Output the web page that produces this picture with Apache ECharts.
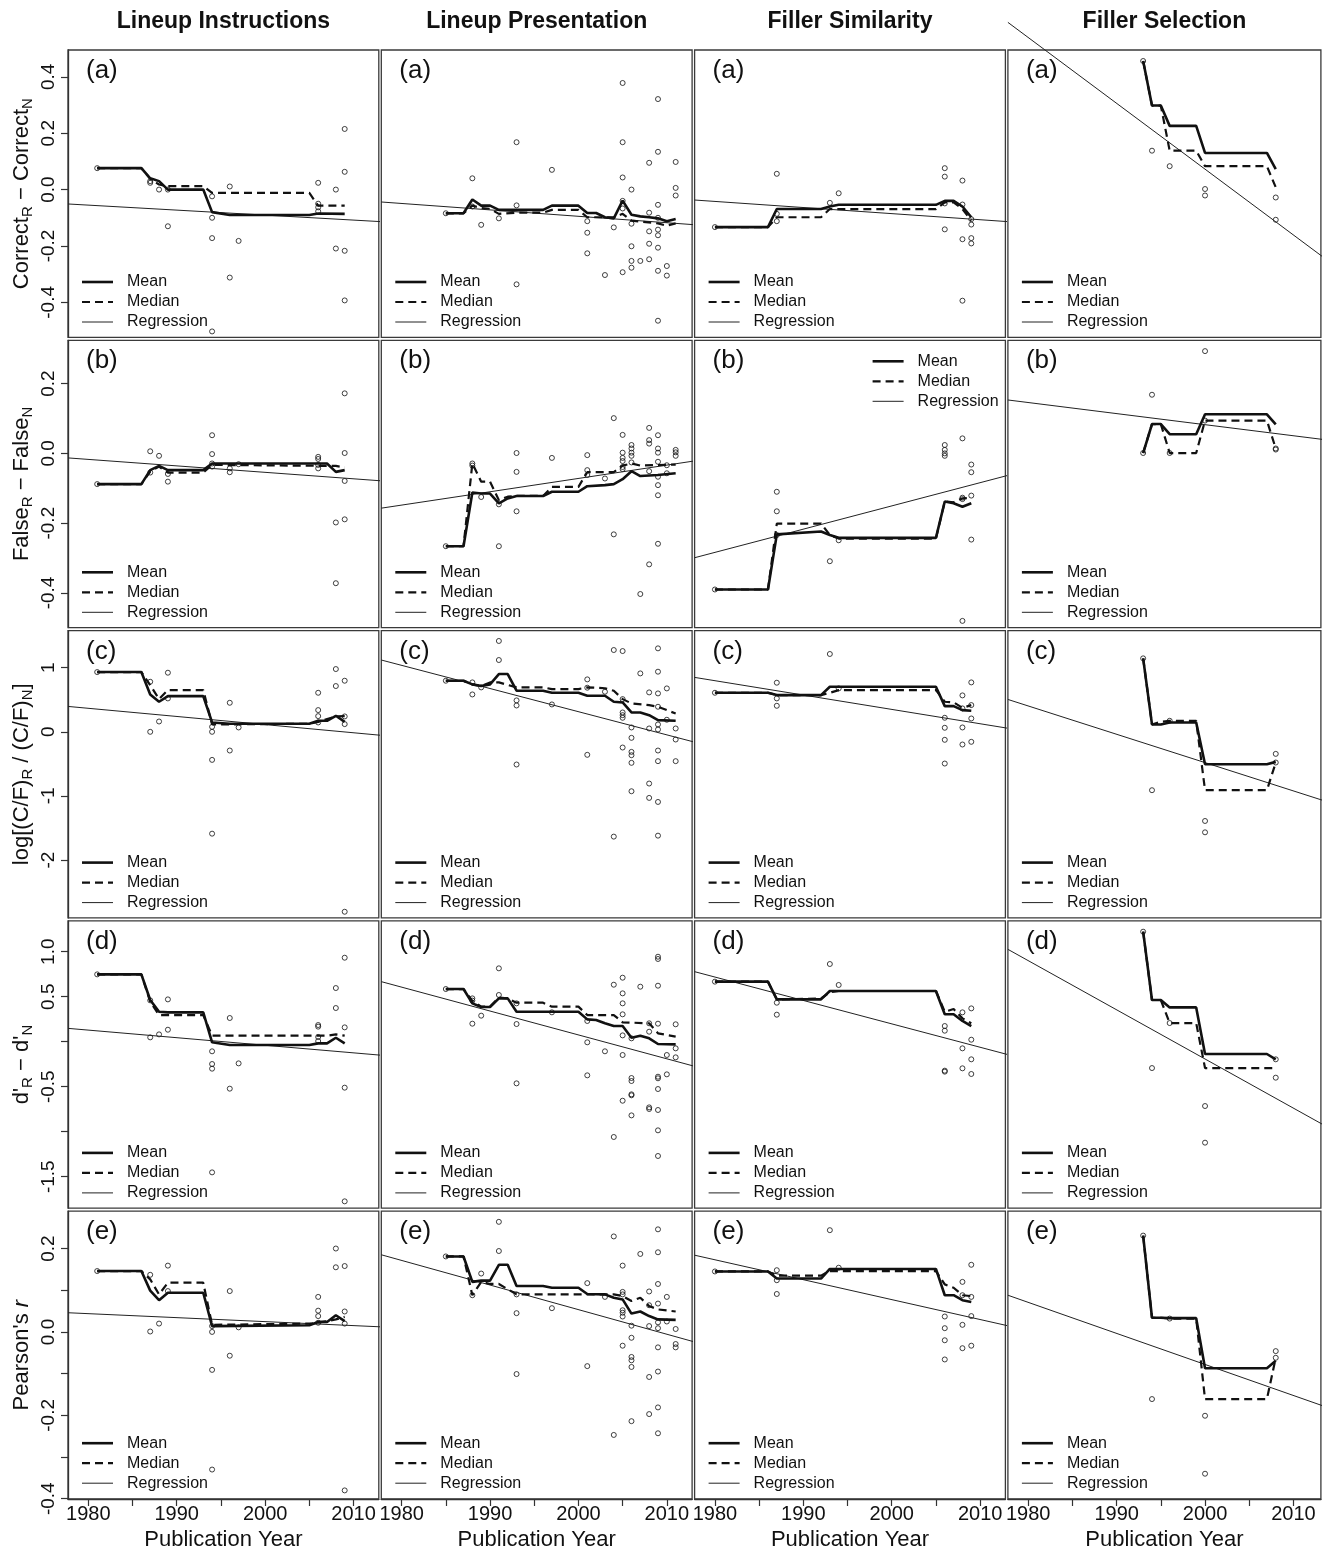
<!DOCTYPE html>
<html><head><meta charset="utf-8">
<script src="https://cdn.jsdelivr.net/npm/echarts/dist/echarts.min.js"></script>
<style>html,body{margin:0;padding:0;background:#fff}#c{width:1328px;height:1552px}</style>
</head><body><div id="c"></div>
<script>
// ---------- text / ticks ----------
const colTitles = ['Lineup Instructions', 'Lineup Presentation', 'Filler Similarity', 'Filler Selection'];
const rowTags = ['(a)', '(b)', '(c)', '(d)', '(e)'];
const rowNames = [
  '{m|Correct}{s|R}{m| \u2212 Correct}{s|N}',
  '{m|False}{s|R}{m| \u2212 False}{s|N}',
  '{m|log[(C/F)}{s|R}{m| / (C/F)}{s|N}{m|]}',
  "{m|d'}{s|R}{m| \u2212 d'}{s|N}",
  "{m|Pearson's }{i|r}"
];
const xName = 'Publication Year';
const legendNames = ['Mean', 'Median', 'Regression'];
const xTickYears = [1980, 1985, 1990, 1995, 2000, 2005, 2010];
const xLabelYears = [1980, 1990, 2000, 2010];
const yTicksA = [-0.4, -0.2, 0, 0.2, 0.4];
const yLabelsA = [-0.4, -0.2, 0, 0.2, 0.4];
const yTicksB = [-0.4, -0.2, 0, 0.2];
const yLabelsB = [-0.4, -0.2, 0, 0.2];
const yTicksC = [-2, -1, 0, 1];
const yLabelsC = [-2, -1, 0, 1];
const yTicksD = [-1.5, -1, -0.5, 0, 0.5, 1];
const yLabelsD = [-1.5, -0.5, 0.5, 1];
const yTicksE = [-0.4, -0.3, -0.2, -0.1, 0, 0.1, 0.2];
const yLabelsE = [-0.4, -0.2, 0, 0.2];

// ---------- row (a): Correct_R - Correct_N ----------
const ptsA1 = [[1981,0.076],[1987,0.03],[1987,0.024],[1988,0.0],[1989,0.0],[1989,-0.13],[1994,-0.024],[1994,-0.10],[1994,-0.172],[1994,-0.503],[1996,0.011],[1996,-0.312],[1997,-0.182],[2006,0.024],[2006,-0.05],[2006,-0.063],[2006,-0.077],[2008,0.0],[2008,-0.209],[2009,0.215],[2009,0.063],[2009,-0.217],[2009,-0.393]];
const meanA1 = [[1981,0.076],[1986,0.076],[1987,0.04],[1988,0.03],[1989,0.0],[1993,0.0],[1994,-0.08],[1996,-0.09],[2005,-0.09],[2006,-0.085],[2009,-0.086]];
const medA1 = [[1981,0.076],[1986,0.076],[1987,0.038],[1988,0.018],[1989,0.012],[1993,0.012],[1994,-0.012],[2005,-0.012],[2006,-0.057],[2009,-0.057]];
const regA1 = [[1977.7,-0.051],[2013.3,-0.114]];

const ptsA2 = [[1985,-0.084],[1988,0.040],[1988,-0.06],[1989,-0.125],[1991,-0.102],[1993,0.168],[1993,-0.056],[1993,-0.336],[1997,0.070],[2001,-0.112],[2001,-0.153],[2001,-0.226],[2003,-0.303],[2004,-0.134],[2005,0.378],[2005,0.168],[2005,0.043],[2005,-0.040],[2005,-0.067],[2005,-0.293],[2006,0.0],[2006,-0.121],[2006,-0.201],[2006,-0.253],[2006,-0.277],[2007,-0.253],[2008,0.095],[2008,-0.082],[2008,-0.148],[2008,-0.192],[2008,-0.247],[2009,0.321],[2009,0.134],[2009,-0.054],[2009,-0.10],[2009,-0.142],[2009,-0.162],[2009,-0.206],[2009,-0.288],[2009,-0.465],[2010,-0.271],[2010,-0.305],[2011,0.098],[2011,0.006],[2011,-0.021]];
const meanA2 = [[1985,-0.084],[1987,-0.084],[1988,-0.035],[1989,-0.057],[1990,-0.057],[1991,-0.072],[1996,-0.072],[1997,-0.057],[2000,-0.057],[2001,-0.083],[2002,-0.083],[2003,-0.098],[2004,-0.102],[2005,-0.039],[2006,-0.089],[2007,-0.095],[2008,-0.098],[2009,-0.102],[2010,-0.112],[2011,-0.104]];
const medA2 = [[1985,-0.084],[1987,-0.084],[1988,-0.057],[1989,-0.065],[1990,-0.068],[1991,-0.086],[1993,-0.082],[1996,-0.082],[1997,-0.072],[2000,-0.072],[2001,-0.098],[2004,-0.098],[2005,-0.086],[2006,-0.11],[2009,-0.12],[2010,-0.128],[2011,-0.12]];
const regA2 = [[1977.7,-0.044],[2013.3,-0.125]];

const ptsA3 = [[1980,-0.133],[1987,0.056],[1987,-0.086],[1987,-0.112],[1993,-0.047],[1994,-0.013],[2006,0.076],[2006,0.046],[2006,-0.049],[2006,-0.141],[2008,0.032],[2008,-0.053],[2008,-0.176],[2008,-0.394],[2009,-0.105],[2009,-0.124],[2009,-0.172],[2009,-0.191]];
const meanA3 = [[1980,-0.133],[1986,-0.133],[1987,-0.069],[1992,-0.069],[1993,-0.060],[1994,-0.054],[2005,-0.054],[2006,-0.040],[2007,-0.040],[2008,-0.060],[2009,-0.098]];
const medA3 = [[1980,-0.133],[1986,-0.133],[1987,-0.098],[1992,-0.098],[1993,-0.069],[1994,-0.069],[2005,-0.069],[2006,-0.045],[2007,-0.045],[2008,-0.069],[2009,-0.11]];
const regA3 = [[1977.7,-0.037],[2013.3,-0.114]];

const ptsA4 = [[1993,0.456],[1994,0.138],[1996,0.083],[2000,0.002],[2000,-0.021],[2008,-0.028],[2008,-0.107]];
const meanA4 = [[1993,0.456],[1994,0.298],[1995,0.298],[1996,0.226],[1999,0.226],[2000,0.130],[2007,0.130],[2008,0.073]];
const medA4 = [[1993,0.456],[1994,0.298],[1995,0.298],[1996,0.138],[1999,0.138],[2000,0.083],[2007,0.083],[2008,0.008]];
const regA4 = [[1977.7,0.593],[2013.3,-0.238]];

// ---------- row (b): False_R - False_N ----------
const ptsB1 = [[1981,-0.088],[1987,0.006],[1987,-0.055],[1988,-0.007],[1989,-0.059],[1989,-0.081],[1994,0.052],[1994,-0.002],[1994,-0.029],[1994,-0.038],[1996,-0.043],[1996,-0.054],[1997,-0.031],[2006,-0.010],[2006,-0.016],[2006,-0.033],[2006,-0.043],[2008,-0.198],[2008,-0.372],[2009,0.172],[2009,0.001],[2009,-0.079],[2009,-0.189]];
const meanB1 = [[1981,-0.088],[1986,-0.088],[1987,-0.048],[1988,-0.036],[1989,-0.048],[1993,-0.048],[1994,-0.029],[2007,-0.029],[2008,-0.053],[2009,-0.048]];
const medB1 = [[1981,-0.088],[1986,-0.088],[1987,-0.052],[1988,-0.038],[1989,-0.055],[1993,-0.055],[1994,-0.033],[2008,-0.036],[2009,-0.040]];
const regB1 = [[1977.7,-0.013],[2013.3,-0.079]];

const ptsB2 = [[1985,-0.266],[1988,-0.029],[1988,-0.035],[1989,-0.125],[1991,-0.146],[1991,-0.266],[1993,0.001],[1993,-0.053],[1993,-0.166],[1997,-0.013],[2001,-0.005],[2001,-0.048],[2001,-0.062],[2003,-0.072],[2004,0.101],[2004,-0.232],[2005,0.053],[2005,0.002],[2005,-0.013],[2005,-0.022],[2005,-0.039],[2005,-0.045],[2006,0.024],[2006,0.014],[2006,0.002],[2006,-0.007],[2006,-0.026],[2007,-0.403],[2008,0.073],[2008,0.038],[2008,0.028],[2008,-0.051],[2008,-0.318],[2009,0.052],[2009,0.014],[2009,0.002],[2009,-0.024],[2009,-0.067],[2009,-0.091],[2009,-0.120],[2009,-0.259],[2010,-0.034],[2010,-0.057],[2011,0.010],[2011,0.003],[2011,-0.007]];
const meanB2 = [[1985,-0.266],[1987,-0.266],[1988,-0.112],[1989,-0.115],[1990,-0.115],[1991,-0.143],[1992,-0.129],[1993,-0.122],[1996,-0.122],[1997,-0.110],[2000,-0.110],[2001,-0.094],[2003,-0.091],[2004,-0.088],[2005,-0.074],[2006,-0.051],[2007,-0.065],[2009,-0.062],[2011,-0.057]];
const medB2 = [[1985,-0.266],[1987,-0.266],[1988,-0.029],[1989,-0.081],[1990,-0.081],[1991,-0.134],[1992,-0.124],[1993,-0.122],[1996,-0.122],[1997,-0.096],[2000,-0.096],[2001,-0.054],[2004,-0.054],[2005,-0.035],[2006,-0.029],[2007,-0.035],[2011,-0.032]];
const regB2 = [[1977.7,-0.157],[2013.3,-0.021]];

const ptsB3 = [[1980,-0.390],[1987,-0.110],[1987,-0.166],[1987,-0.234],[1993,-0.309],[1994,-0.249],[2006,0.024],[2006,0.010],[2006,0.0],[2006,-0.007],[2008,0.043],[2008,-0.127],[2008,-0.131],[2008,-0.480],[2009,-0.032],[2009,-0.054],[2009,-0.121],[2009,-0.247]];
const meanB3 = [[1980,-0.390],[1986,-0.390],[1987,-0.232],[1992,-0.224],[1993,-0.234],[1994,-0.242],[2005,-0.242],[2006,-0.138],[2007,-0.143],[2008,-0.153],[2009,-0.143]];
const medB3 = [[1980,-0.390],[1986,-0.390],[1987,-0.201],[1992,-0.201],[1993,-0.234],[1994,-0.244],[2005,-0.244],[2006,-0.138],[2007,-0.140],[2008,-0.129],[2009,-0.127]];
const regB3 = [[1977.7,-0.299],[2013.3,-0.062]];

const ptsB4 = [[1993,0.001],[1994,0.168],[1996,0.001],[2000,0.293],[2000,0.094],[2008,0.014],[2008,0.011]];
const meanB4 = [[1993,0.001],[1994,0.084],[1995,0.084],[1996,0.055],[1999,0.055],[2000,0.112],[2007,0.112],[2008,0.083]];
const medB4 = [[1993,0.001],[1994,0.084],[1995,0.084],[1996,0.001],[1999,0.001],[2000,0.094],[2007,0.094],[2008,0.014]];
const regB4 = [[1977.7,0.153],[2013.3,0.040]];

// ---------- row (c): log[(C/F)_R / (C/F)_N] ----------
const ptsC1 = [[1981,0.932],[1987,0.781],[1987,0.0],[1988,0.161],[1989,0.922],[1989,0.521],[1994,0.078],[1994,0.0],[1994,-0.438],[1994,-1.589],[1996,0.453],[1996,-0.292],[1997,0.068],[2006,0.609],[2006,0.339],[2006,0.245],[2006,0.146],[2008,0.979],[2008,0.714],[2009,0.797],[2009,0.240],[2009,0.120],[2009,-2.807]];
const meanC1 = [[1981,0.932],[1986,0.932],[1987,0.583],[1988,0.469],[1989,0.557],[1993,0.557],[1994,0.146],[1996,0.125],[2005,0.125],[2006,0.172],[2007,0.172],[2008,0.25],[2009,0.156]];
const medC1 = [[1981,0.932],[1986,0.932],[1987,0.729],[1988,0.51],[1989,0.651],[1993,0.651],[1994,0.115],[2005,0.125],[2006,0.155],[2008,0.24],[2009,0.245]];
const regC1 = [[1977.7,0.396],[2013.3,-0.057]];

const ptsC2 = [[1985,0.797],[1988,0.771],[1988,0.583],[1989,0.693],[1991,1.417],[1991,1.120],[1993,0.490],[1993,0.411],[1993,-0.510],[1997,0.427],[2001,0.818],[2001,0.688],[2001,-0.359],[2003,0.625],[2004,1.276],[2004,-1.635],[2005,1.260],[2005,0.51],[2005,0.302],[2005,0.26],[2005,0.219],[2005,-0.245],[2006,0.068],[2006,-0.094],[2006,-0.313],[2006,-0.365],[2006,-0.484],[2006,-0.927],[2007,0.911],[2008,0.615],[2008,0.052],[2008,-0.807],[2008,-1.031],[2009,1.302],[2009,0.938],[2009,0.599],[2009,0.391],[2009,0.115],[2009,0.036],[2009,-0.292],[2009,-0.458],[2009,-1.094],[2009,-1.620],[2010,0.677],[2010,0.188],[2011,0.052],[2011,-0.12],[2011,-0.458]];
const meanC2 = [[1985,0.797],[1987,0.797],[1988,0.74],[1989,0.714],[1990,0.74],[1991,0.901],[1992,0.901],[1993,0.641],[1996,0.641],[1997,0.609],[2000,0.609],[2001,0.563],[2003,0.563],[2004,0.469],[2005,0.458],[2006,0.302],[2007,0.302],[2008,0.26],[2009,0.182],[2011,0.172]];
const medC2 = [[1985,0.797],[1987,0.797],[1988,0.74],[1989,0.714],[1990,0.771],[1991,0.771],[1993,0.693],[1996,0.693],[1997,0.667],[2000,0.667],[2001,0.693],[2003,0.68],[2004,0.641],[2005,0.51],[2006,0.443],[2008,0.417],[2009,0.39],[2011,0.286]];
const regC2 = [[1977.7,1.120],[2013.3,-0.167]];

const ptsC3 = [[1980,0.609],[1987,0.766],[1987,0.521],[1987,0.406],[1993,1.214],[1994,0.677],[2006,0.219],[2006,0.063],[2006,-0.125],[2006,-0.495],[2008,0.568],[2008,0.365],[2008,0.068],[2008,-0.198],[2009,0.771],[2009,0.417],[2009,0.208],[2009,-0.156]];
const meanC3 = [[1980,0.609],[1986,0.609],[1987,0.573],[1992,0.573],[1993,0.703],[2005,0.703],[2006,0.401],[2007,0.401],[2008,0.339],[2009,0.328]];
const medC3 = [[1980,0.609],[1986,0.609],[1987,0.573],[1992,0.573],[1993,0.609],[1994,0.651],[2005,0.651],[2006,0.469],[2007,0.46],[2008,0.375],[2009,0.417]];
const regC3 = [[1977.7,0.849],[2013.3,0.052]];

const ptsC4 = [[1993,1.146],[1994,-0.911],[1996,0.172],[2000,-1.391],[2000,-1.568],[2008,-0.344],[2008,-0.479]];
const meanC4 = [[1993,1.146],[1994,0.115],[1995,0.115],[1996,0.146],[1999,0.146],[2000,-0.505],[2007,-0.505],[2008,-0.469]];
const medC4 = [[1993,1.146],[1994,0.115],[1995,0.155],[1996,0.172],[1999,0.172],[2000,-0.911],[2007,-0.911],[2008,-0.479]];
const regC4 = [[1977.7,0.505],[2013.3,-1.068]];

// ---------- row (d): d'_R - d'_N ----------
const ptsD1 = [[1981,0.748],[1987,0.459],[1987,0.048],[1988,0.081],[1989,0.470],[1989,0.133],[1994,-0.107],[1994,-0.248],[1994,-0.3],[1994,-1.452],[1996,0.263],[1996,-0.522],[1997,-0.241],[2006,0.185],[2006,0.167],[2006,0.052],[2006,0.007],[2008,0.596],[2008,0.374],[2009,0.933],[2009,0.159],[2009,-0.511],[2009,-1.774]];
const meanD1 = [[1981,0.748],[1986,0.748],[1987,0.463],[1988,0.333],[1989,0.326],[1993,0.326],[1994,-0.007],[1996,-0.037],[2005,-0.037],[2006,-0.019],[2007,-0.019],[2008,0.044],[2009,-0.019]];
const medD1 = [[1981,0.748],[1986,0.748],[1987,0.444],[1988,0.296],[1989,0.296],[1993,0.296],[1994,0.067],[2007,0.067],[2008,0.081],[2009,0.067]];
const regD1 = [[1977.7,0.148],[2013.3,-0.152]];

const ptsD2 = [[1985,0.585],[1988,0.481],[1988,0.456],[1988,0.2],[1989,0.289],[1991,0.815],[1991,0.519],[1993,0.426],[1993,0.196],[1993,-0.463],[1997,0.326],[2001,0.23],[2001,-0.007],[2001,-0.374],[2003,-0.107],[2004,0.633],[2004,-1.059],[2005,0.711],[2005,0.537],[2005,0.426],[2005,0.304],[2005,0.07],[2005,-0.148],[2005,-0.656],[2006,0.037],[2006,-0.404],[2006,-0.437],[2006,-0.585],[2006,-0.596],[2006,-0.819],[2007,0.611],[2008,0.204],[2008,0.111],[2008,-0.73],[2008,-0.748],[2009,0.944],[2009,0.919],[2009,0.622],[2009,0.2],[2009,-0.389],[2009,-0.407],[2009,-0.526],[2009,-0.759],[2009,-0.985],[2009,-1.27],[2010,-0.148],[2010,-0.363],[2011,0.193],[2011,-0.074],[2011,-0.174]];
const meanD2 = [[1985,0.585],[1987,0.585],[1988,0.426],[1989,0.385],[1990,0.385],[1991,0.481],[1992,0.481],[1993,0.333],[2000,0.333],[2001,0.248],[2002,0.241],[2003,0.204],[2004,0.174],[2005,0.174],[2006,0.044],[2007,0.067],[2008,0.037],[2009,-0.026],[2011,-0.03]];
const medD2 = [[1985,0.585],[1987,0.585],[1988,0.452],[1989,0.389],[1990,0.389],[1991,0.489],[1992,0.481],[1993,0.433],[1996,0.433],[1997,0.389],[2000,0.389],[2001,0.296],[2004,0.296],[2005,0.215],[2008,0.204],[2009,0.093],[2011,0.056]];
const regD2 = [[1977.7,0.667],[2013.3,-0.278]];

const ptsD3 = [[1980,0.667],[1987,0.433],[1987,0.3],[1993,0.863],[1994,0.63],[2006,0.174],[2006,0.122],[2006,-0.322],[2006,-0.333],[2008,0.326],[2008,-0.074],[2008,-0.296],[2009,0.37],[2009,0.022],[2009,-0.196],[2009,-0.359]];
const meanD3 = [[1980,0.667],[1986,0.667],[1987,0.47],[1992,0.47],[1993,0.563],[2005,0.563],[2006,0.304],[2007,0.304],[2008,0.23],[2009,0.174]];
const medD3 = [[1980,0.667],[1986,0.667],[1987,0.47],[1992,0.48],[1993,0.548],[1994,0.563],[2005,0.563],[2006,0.333],[2007,0.363],[2008,0.259],[2009,0.204]];
const regD3 = [[1977.7,0.778],[2013.3,-0.148]];

const ptsD4 = [[1993,1.222],[1994,-0.293],[1996,0.207],[2000,-0.715],[2000,-1.122],[2008,-0.196],[2008,-0.4]];
const meanD4 = [[1993,1.222],[1994,0.463],[1995,0.463],[1996,0.381],[1999,0.381],[2000,-0.137],[2007,-0.137],[2008,-0.196]];
const medD4 = [[1993,1.222],[1994,0.463],[1995,0.463],[1996,0.207],[1999,0.207],[2000,-0.293],[2007,-0.293],[2008,-0.293]];
const regD4 = [[1977.7,1.026],[2013.3,-0.919]];

// ---------- row (e): Pearson's r ----------
const ptsE1 = [[1981,0.146],[1987,0.137],[1987,0.001],[1988,0.02],[1989,0.159],[1989,0.098],[1994,0.014],[1994,0.0],[1994,-0.091],[1994,-0.330],[1996,0.098],[1996,-0.057],[1997,0.011],[2006,0.084],[2006,0.051],[2006,0.038],[2006,0.022],[2008,0.2],[2008,0.155],[2009,0.158],[2009,0.049],[2009,0.02],[2009,-0.38]];
const meanE1 = [[1981,0.146],[1986,0.146],[1987,0.099],[1988,0.076],[1989,0.094],[1993,0.094],[1994,0.014],[2005,0.016],[2006,0.024],[2007,0.024],[2008,0.04],[2009,0.026]];
const medE1 = [[1981,0.146],[1986,0.146],[1987,0.126],[1988,0.090],[1989,0.118],[1993,0.118],[1994,0.017],[2005,0.02],[2006,0.022],[2008,0.03],[2009,0.036]];
const regE1 = [[1977.7,0.046],[2013.3,0.012]];

const ptsE2 = [[1985,0.181],[1988,0.088],[1989,0.14],[1991,0.264],[1991,0.194],[1993,0.09],[1993,0.045],[1993,-0.101],[1997,0.057],[2001,0.117],[2001,-0.082],[2003,0.084],[2004,0.229],[2004,-0.247],[2005,0.159],[2005,0.096],[2005,0.09],[2005,0.052],[2005,0.046],[2005,0.037],[2005,-0.033],[2006,0.015],[2006,-0.014],[2006,-0.06],[2006,-0.068],[2006,-0.084],[2006,-0.214],[2007,0.187],[2008,0.097],[2008,0.064],[2008,0.014],[2008,-0.108],[2008,-0.197],[2009,0.246],[2009,0.191],[2009,0.115],[2009,0.068],[2009,0.023],[2009,0.009],[2009,-0.037],[2009,-0.095],[2009,-0.181],[2009,-0.243],[2010,0.084],[2010,0.025],[2011,0.007],[2011,-0.029],[2011,-0.037]];
const meanE2 = [[1985,0.181],[1987,0.181],[1988,0.12],[1989,0.123],[1990,0.123],[1991,0.161],[1992,0.161],[1993,0.11],[1996,0.11],[1997,0.106],[2000,0.106],[2001,0.091],[2003,0.09],[2004,0.082],[2005,0.078],[2006,0.044],[2007,0.049],[2008,0.038],[2009,0.03],[2011,0.029]];
const medE2 = [[1985,0.181],[1987,0.181],[1988,0.088],[1989,0.12],[1990,0.115],[1991,0.115],[1993,0.09],[2004,0.09],[2005,0.086],[2006,0.074],[2007,0.082],[2008,0.062],[2009,0.054],[2011,0.049]];
const regE2 = [[1977.7,0.185],[2013.3,-0.025]];

const ptsE3 = [[1980,0.145],[1987,0.148],[1987,0.124],[1987,0.091],[1993,0.244],[1994,0.154],[2006,0.037],[2006,0.009],[2006,-0.02],[2006,-0.066],[2008,0.12],[2008,0.088],[2008,0.017],[2008,-0.039],[2009,0.161],[2009,0.084],[2009,0.038],[2009,-0.033]];
const meanE3 = [[1980,0.145],[1986,0.145],[1987,0.128],[1992,0.128],[1993,0.151],[2005,0.151],[2006,0.088],[2007,0.088],[2008,0.076],[2009,0.072]];
const medE3 = [[1980,0.145],[1986,0.145],[1987,0.135],[1992,0.135],[1993,0.146],[2005,0.146],[2006,0.114],[2007,0.106],[2008,0.088],[2009,0.086]];
const regE3 = [[1977.7,0.184],[2013.3,0.014]];

const ptsE4 = [[1993,0.231],[1994,-0.161],[1996,0.032],[2000,-0.201],[2000,-0.34],[2008,-0.046],[2008,-0.062]];
const meanE4 = [[1993,0.231],[1994,0.034],[1995,0.034],[1996,0.033],[1999,0.033],[2000,-0.087],[2007,-0.087],[2008,-0.069]];
const medE4 = [[1993,0.231],[1994,0.034],[1995,0.034],[1996,0.032],[1999,0.032],[2000,-0.161],[2007,-0.161],[2008,-0.062]];
const regE4 = [[1977.7,0.088],[2013.3,-0.177]];

// ---------- assemble ----------
const panelData = [
  [[ptsA1,meanA1,medA1,regA1],[ptsA2,meanA2,medA2,regA2],[ptsA3,meanA3,medA3,regA3],[ptsA4,meanA4,medA4,regA4]],
  [[ptsB1,meanB1,medB1,regB1],[ptsB2,meanB2,medB2,regB2],[ptsB3,meanB3,medB3,regB3],[ptsB4,meanB4,medB4,regB4]],
  [[ptsC1,meanC1,medC1,regC1],[ptsC2,meanC2,medC2,regC2],[ptsC3,meanC3,medC3,regC3],[ptsC4,meanC4,medC4,regC4]],
  [[ptsD1,meanD1,medD1,regD1],[ptsD2,meanD2,medD2,regD2],[ptsD3,meanD3,medD3,regD3],[ptsD4,meanD4,medD4,regD4]],
  [[ptsE1,meanE1,medE1,regE1],[ptsE2,meanE2,medE2,regE2],[ptsE3,meanE3,medE3,regE3],[ptsE4,meanE4,medE4,regE4]]
];
const yTicks = [yTicksA, yTicksB, yTicksC, yTicksD, yTicksE];
const yLabels = [yLabelsA, yLabelsB, yLabelsC, yLabelsD, yLabelsE];

// layout (styling, not data)
const FONT = '"Liberation Sans", Arial, Helvetica, sans-serif';
const INK = '#111';
const L0 = 68, DX = 313.3, T0 = 50, DY = 290.3;
const XMIN = 1977.7, PX_PER_YEAR = 8.84;
const yTop = [0.495, 0.324, 1.579, 1.342, 0.2895];      // axis value at panel top
const yPxPerUnit = [282, 349, 64.1, 90, 419.5];          // vertical scale per row
const yDigits = [1, 1, 0, 1, 1];
const styleMean = { color: INK, width: 2.6 };
const styleMed = { color: INK, width: 2.2, type: [8, 5] };
const styleReg = { color: '#222', width: 1 };

const grid = [], xAxis = [], yAxis = [], series = [], graphic = [];
for (let r = 0; r < 5; r++) {
  for (let c = 0; c < 4; c++) {
    const i = r * 4 + c;
    const left = L0 + DX * c, top = T0 + DY * r;
    const W = c === 3 ? 313 : 310.8;
    const H = r === 4 ? 289.5 : 287.3;
    const [pts, mean, med, reg] = panelData[r][c];
    const bottom = r === 4, first = c === 0;
    grid.push({ left, top, width: W, height: H, show: true, borderColor: '#3a3a3a', borderWidth: 1.3, backgroundColor: 'transparent' });
    xAxis.push({
      type: 'value', gridIndex: i, min: XMIN, max: XMIN + W / PX_PER_YEAR, splitLine: { show: false },
      axisLine: { show: bottom, onZero: false, lineStyle: { color: '#333', width: 1.3 } },
      axisTick: { show: bottom, length: 7, customValues: xTickYears, lineStyle: { color: '#333', width: 1.2 } },
      axisLabel: { show: bottom, customValues: xLabelYears, fontFamily: FONT, fontSize: 20, color: INK, margin: 5, formatter: v => String(v) },
      name: bottom ? xName : '', nameLocation: 'middle', nameGap: 30,
      nameTextStyle: { fontFamily: FONT, fontSize: 22, color: INK }
    });
    const d = yDigits[r];
    yAxis.push({
      type: 'value', gridIndex: i, min: yTop[r] - H / yPxPerUnit[r], max: yTop[r], splitLine: { show: false },
      axisLine: { show: first, onZero: false, lineStyle: { color: '#333', width: 1.3 } },
      axisTick: { show: first, length: 7, customValues: yTicks[r], lineStyle: { color: '#333', width: 1.2 } },
      axisLabel: { show: first, customValues: yLabels[r], rotate: 90, fontFamily: FONT, fontSize: 19, color: INK, margin: 10,
        formatter: v => (Math.abs(v) < 1e-9 ? 0 : v).toFixed(d) },
      name: first ? rowNames[r] : '', nameLocation: 'middle', nameRotate: 90, nameGap: 32,
      nameTextStyle: { fontFamily: FONT, fontSize: 22, color: INK,
        rich: {
          m: { fontFamily: FONT, fontSize: 22, lineHeight: 28, color: INK },
          s: { fontFamily: FONT, fontSize: 15, lineHeight: 16, padding: [12, 0, 0, 0], color: INK },
          i: { fontFamily: FONT, fontSize: 22, fontStyle: 'italic', lineHeight: 28, color: INK }
        } }
    });
    series.push({ type: 'scatter', xAxisIndex: i, yAxisIndex: i, data: pts, symbol: 'circle', symbolSize: 5,
      itemStyle: { color: 'rgba(0,0,0,0)', borderColor: INK, borderWidth: 1 }, silent: true, z: 2 });
    series.push({ type: 'line', name: 'Regression', xAxisIndex: i, yAxisIndex: i, data: reg, symbol: 'none', clip: false,
      lineStyle: styleReg, silent: true, z: 3 });
    series.push({ type: 'line', name: 'Median', xAxisIndex: i, yAxisIndex: i, data: med, symbol: 'none',
      lineStyle: styleMed, silent: true, z: 4 });
    series.push({ type: 'line', name: 'Mean', xAxisIndex: i, yAxisIndex: i, data: mean, symbol: 'none',
      lineStyle: styleMean, silent: true, z: 5 });

    // per-panel key (line samples + labels)
    const topRight = (r === 1 && c === 2);
    const lx = topRight ? left + 178 : left + 14;
    const ly = topRight ? top + 21 : top + 232;
    const keyStyles = [styleMean, styleMed, styleReg];
    for (let k = 0; k < 3; k++) {
      const s = keyStyles[k];
      graphic.push({ type: 'line', silent: true, z: 10,
        shape: { x1: lx, y1: ly + 20 * k, x2: lx + 31, y2: ly + 20 * k },
        style: { stroke: s.color, lineWidth: s.width, lineDash: Array.isArray(s.type) ? s.type : null } });
      graphic.push({ type: 'text', silent: true, z: 10, x: lx + 45, y: ly + 20 * k,
        style: { text: legendNames[k], fontFamily: FONT, fontSize: 16, fill: INK, verticalAlign: 'middle' } });
    }
    graphic.push({ type: 'text', x: left + 18, y: top + 8, silent: true,
      style: { text: rowTags[r], fontFamily: FONT, fontSize: 26, fill: INK } });
    if (r === 0) {
      graphic.push({ type: 'text', x: left + W / 2, y: 22, silent: true,
        style: { text: colTitles[c], fontFamily: FONT, fontSize: 23, fontWeight: 'bold', fill: INK, align: 'center', verticalAlign: 'middle' } });
    }
  }
}

const chart = echarts.init(document.getElementById('c'), null, { renderer: 'canvas' });
chart.setOption({ animation: false, backgroundColor: '#fff', grid, xAxis, yAxis, series, graphic });
</script></body></html>
